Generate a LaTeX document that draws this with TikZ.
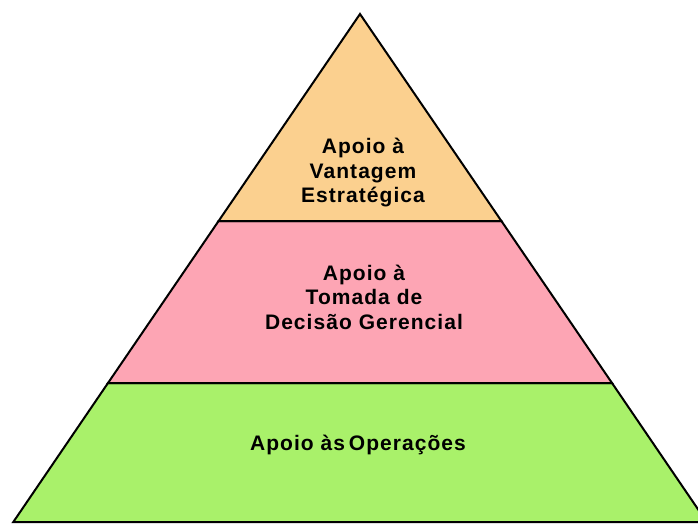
\documentclass[tikz,border=0pt]{standalone}
\usepackage{fontspec}
\setmainfont{Liberation Sans}[LetterSpace=5]
\definecolor{peach}{HTML}{FBD08F}
\definecolor{pinkl}{HTML}{FDA5B4}
\definecolor{greenl}{HTML}{A9F16A}
\begin{document}
\begin{tikzpicture}[x=1pt,y=-1pt,
  layer/.style={draw=black,line width=2pt,line join=miter},
  lbl/.style={inner sep=0pt,align=center,text=black,font={\fontsize{21}{24.5}\selectfont\bfseries}}]
\useasboundingbox (0,0) rectangle (698,523);
\clip (0,0) rectangle (698,523);
\fill[white] (0,0) rectangle (698,523);
\coordinate (apex) at (360,14);
\coordinate (l1) at (218.6,221);
\coordinate (r1) at (501.4,221);
\coordinate (l2) at (108,383);
\coordinate (r2) at (612,383);
\coordinate (l3) at (13.3,522);
\coordinate (r3) at (706.7,522);
\path[layer,fill=greenl] (l2) -- (r2) -- (r3) -- (l3) -- cycle;
\path[layer,fill=pinkl] (l1) -- (r1) -- (r2) -- (l2) -- cycle;
\path[layer,fill=peach] (apex) -- (r1) -- (l1) -- cycle;
\node[lbl] (top) at (363,172.6) {Apoio à\\Vantagem\\Estratégica};
\node[lbl] (mid) at (364,297) {Apoio à\\Tomada de\\Decisão Gerencial};
\node[lbl,anchor=base] (bot) at (358,450) {Apoio às\kern-3pt\ Operações};
\end{tikzpicture}
\end{document}
